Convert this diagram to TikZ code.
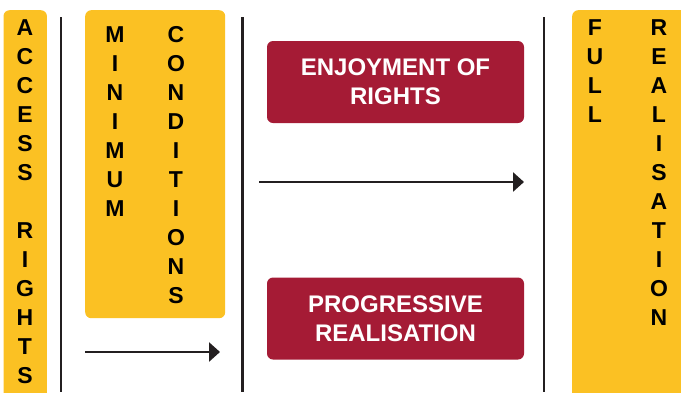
\documentclass[tikz,border=0pt]{standalone}
\usepackage{fontspec}
\setmainfont{Liberation Sans}
\usetikzlibrary{arrows.meta,positioning}
\definecolor{rtyellow}{RGB}{251,193,35}
\definecolor{rtred}{RGB}{165,27,53}
\definecolor{rtline}{RGB}{35,31,32}
\begin{document}
\begin{tikzpicture}
[x=1pt,y=-1pt,
column/.style={align=center,anchor=north,inner sep=0pt,font={\bfseries\fontsize{23}{29}\selectfont}},
stage/.style={fill=rtyellow,rounded corners=6pt,inner sep=0pt,anchor=north west},
goal/.style={fill=rtred,rounded corners=6pt,text=white,align=center,minimum width=257pt,minimum height=82pt,font={\bfseries\fontsize{24}{29}\selectfont}},
divider/.style={rtline,line width=2.2pt},
progress/.style={rtline,line width=2.8pt,-{Triangle[length=11pt,width=19pt]}}
]
\clip (0,0) rectangle (681,392);
% yellow stages
\node[stage,minimum width=43.4pt,minimum height=400pt] (accessbox) at (3.3,10) {};
\node[stage,minimum width=140pt,minimum height=308pt] (minbox) at (85,10) {};
\node[stage,minimum width=130pt,minimum height=400pt] (fullbox) at (572,10) {};
\node[column] (access) at (25,19.5) {A\\C\\C\\E\\S\\S\\~\\R\\I\\G\\H\\T\\S};
\node[column] (minimum) at (115,26) {M\\I\\N\\I\\M\\U\\M};
\node[column] (conditions) at (176,26) {C\\O\\N\\D\\I\\T\\I\\O\\N\\S};
\node[column] (full) at (595,19.5) {F\\U\\L\\L};
\node[column] (realisation) at (659,19.5) {R\\E\\A\\L\\I\\S\\A\\T\\I\\O\\N};
% red boxes
\node[goal] (enjoy) at (395.5,82) {ENJOYMENT OF\\RIGHTS};
\node[goal] (prog) at (395.5,318.5) {PROGRESSIVE\\REALISATION};
% dividers
\coordinate (d1t) at (61,17);
\coordinate (d1b) at (61,392);
\coordinate (d2t) at (242.5,17);
\coordinate (d2b) at (242.5,392);
\coordinate (d3t) at (544,17);
\coordinate (d3b) at (544,392);
\draw[divider] (d1t) -- (d1b);
\draw[divider] (d2t) -- (d2b);
\draw[divider] (d3t) -- (d3b);
% arrows
\coordinate (a1s) at (259,182);
\coordinate (a1e) at (524,182);
\coordinate (a2s) at (85,352);
\coordinate (a2e) at (220,352);
\draw[progress] (a1s) -- (a1e);
\draw[progress] (a2s) -- (a2e);
\end{tikzpicture}
\end{document}
